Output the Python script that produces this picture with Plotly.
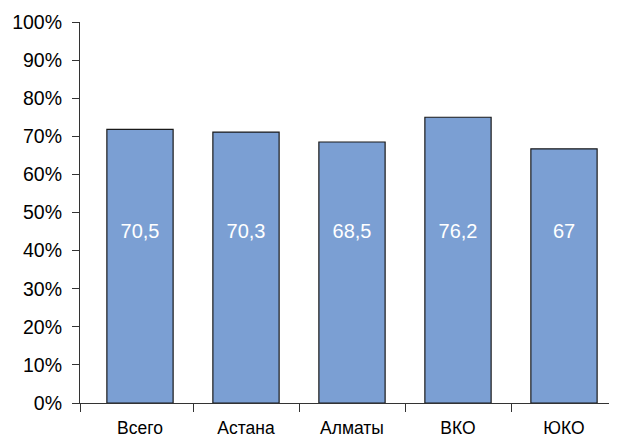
import plotly.graph_objects as go

categories = ["Всего", "Астана", "Алматы", "ВКО", "ЮКО"]
bar_values = [0.718, 0.711, 0.685, 0.750, 0.667]
label_texts = ["70,5", "70,3", "68,5", "76,2", "67"]
label_level = [0.447, 0.447, 0.447, 0.447, 0.447]

positions = list(range(len(categories)))
x_start = -0.566
boundaries = [x_start] + [p + 0.5 for p in positions[:-1]]

fig = go.Figure()
fig.add_trace(go.Bar(
    x=positions, y=bar_values, width=0.625,
    marker=dict(color="#7B9FD3", line=dict(color="#1a1a1a", width=1.2)),
    hoverinfo="skip",
))
fig.add_trace(go.Scatter(
    x=positions, y=label_level, mode="text", text=label_texts,
    textfont=dict(color="white", size=20, family="Liberation Sans, Arial"),
    hoverinfo="skip",
))
fig.update_layout(
    width=617, height=439,
    margin=dict(l=72, r=8, t=14, b=44),
    paper_bgcolor="white", plot_bgcolor="white",
    showlegend=False,
    font=dict(family="Liberation Sans, Arial", size=18, color="black"),
)
fig.update_yaxes(
    range=[0, 1], tickvals=[i / 10 for i in range(11)], tickformat=".0%",
    showgrid=False, zeroline=False, showline=True, linecolor="#333", linewidth=1.2,
    ticks="outside", ticklen=7, tickcolor="#333", tickwidth=1.2,
    tickfont=dict(size=19.5), ticklabelstandoff=6, automargin=False,
)
fig.update_xaxes(
    range=[x_start, 4.5],
    tickvals=positions, ticktext=categories, ticks="",
    minor=dict(tickvals=boundaries, ticks="outside", ticklen=8,
               tickcolor="#333", tickwidth=1.2, showgrid=False),
    showgrid=False, zeroline=False, showline=True, linecolor="#333", linewidth=1.2,
    tickfont=dict(size=17.5), ticklabelstandoff=9, automargin=False,
)
fig.write_html("out.html")
